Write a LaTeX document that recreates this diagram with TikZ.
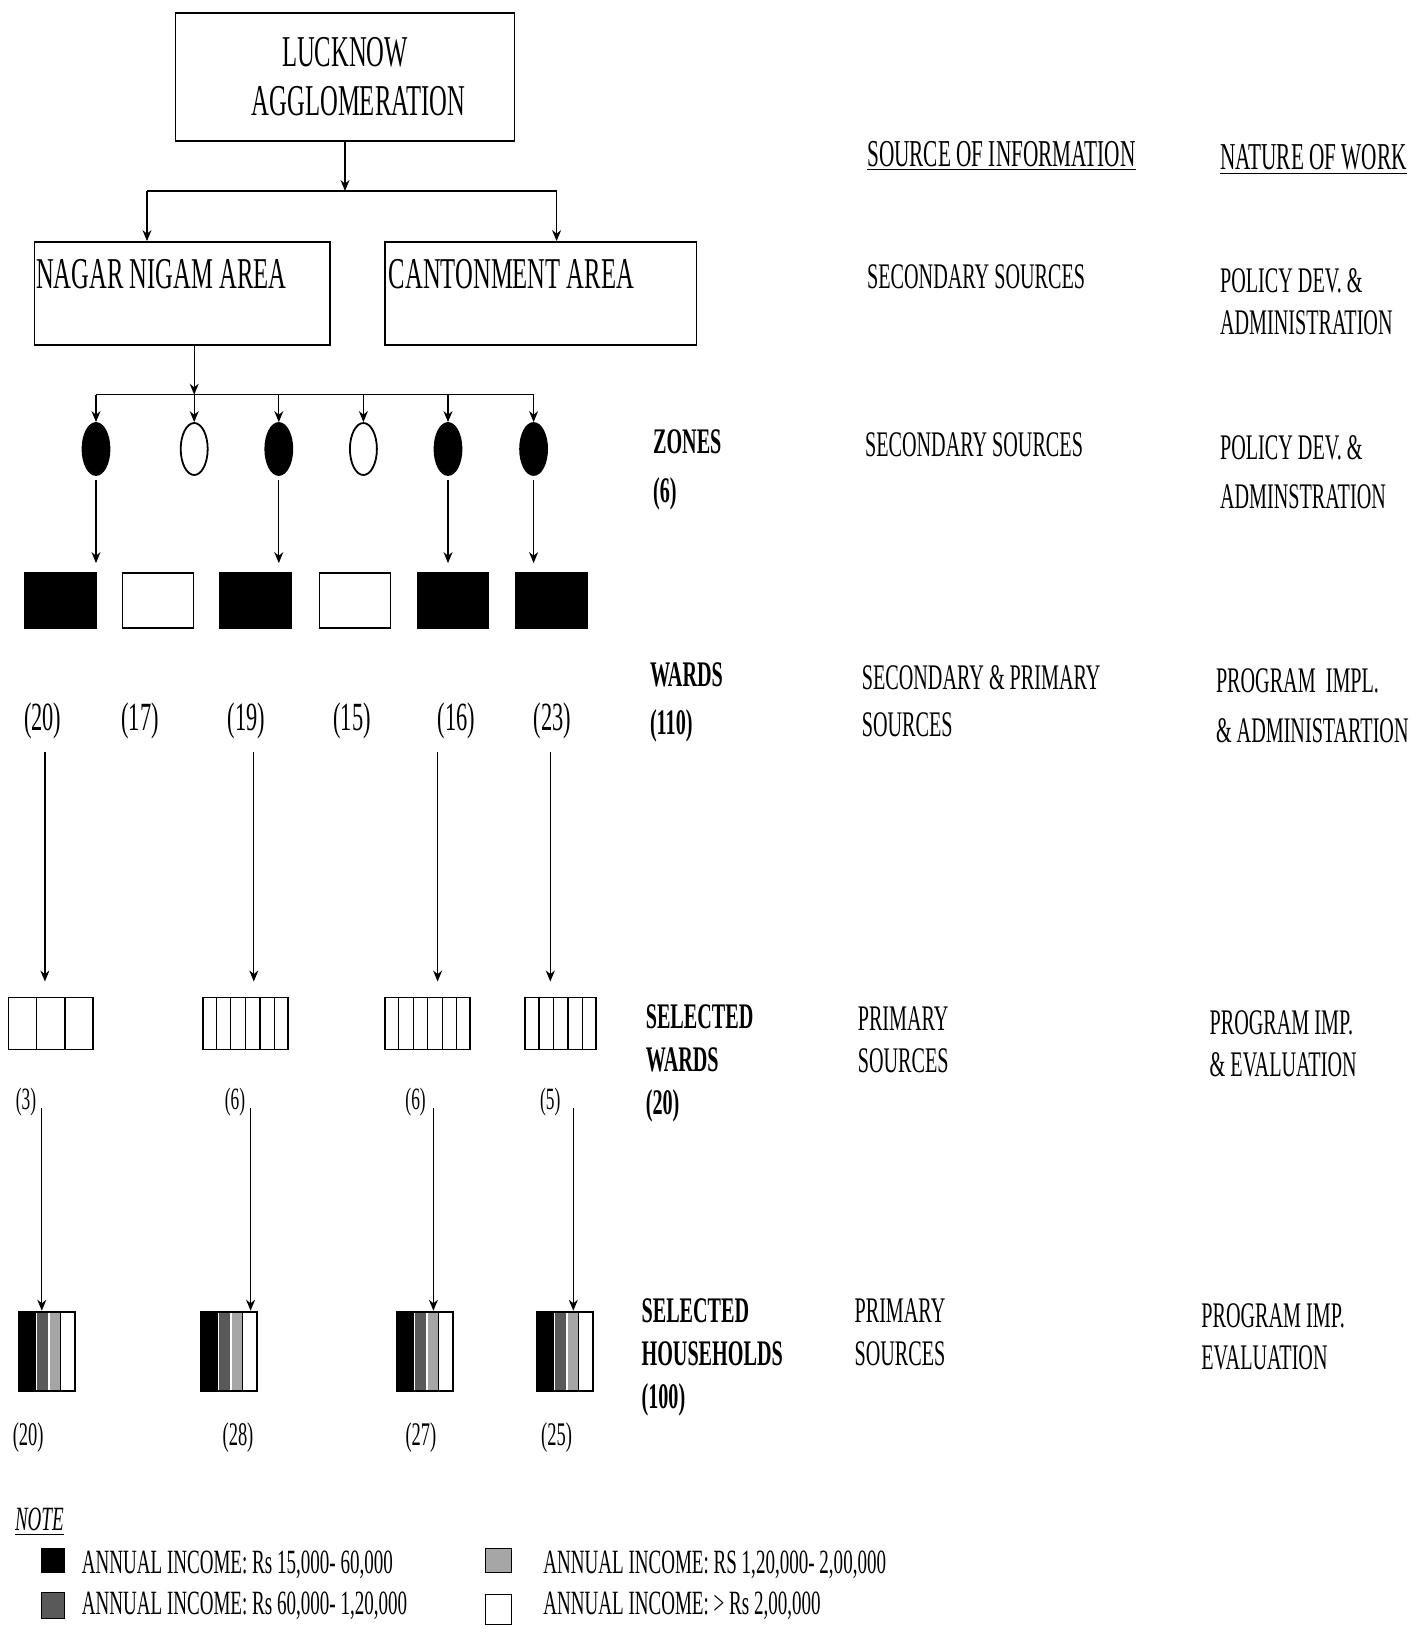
\documentclass[tikz,border=0pt]{standalone}
\usepackage{fontspec}
\setmainfont{Liberation Serif}[FakeStretch=0.56]
\usetikzlibrary{arrows.meta,shapes.geometric,calc,positioning}

\begin{document}
\begin{tikzpicture}[x=0.5pt, y=-0.5pt, >={Stealth[length=5.5pt,width=4.5pt]},
  box/.style={draw, line width=0.9pt, inner sep=0},
  conn/.style={line width=0.6pt},
  bigtxt/.style={font=\fontsize{22}{24.5}\selectfont},
  arealbl/.style={bigtxt, inner sep=0, anchor=north west},
  zone/.style={ellipse, draw, line width=0.9pt, minimum width=13.5pt, minimum height=26pt, inner sep=0},
  wardbox/.style={box, minimum width=35.5pt, minimum height=27.3pt},
  selbox/.style={box, minimum height=26pt},
  hhbox/.style={box, minimum width=28.2pt, minimum height=39.7pt,
    path picture={
      \fill[black] (path picture bounding box.north west) rectangle ([xshift=8.5pt]path picture bounding box.south west);
      \fill[black!65] ([xshift=9pt]path picture bounding box.north west) rectangle ([xshift=14.5pt]path picture bounding box.south west);
      \fill[black!35] ([xshift=15.5pt]path picture bounding box.north west) rectangle ([xshift=21pt]path picture bounding box.south west);
      \draw[line width=0.6pt] ([xshift=21pt]path picture bounding box.north west) -- ([xshift=21pt]path picture bounding box.south west);
    }},
  cnt/.style={font=\fontsize{#1}{#1}\selectfont, inner sep=0},
  lvl/.style={font=\fontsize{18}{#1}\selectfont\bfseries, align=left, anchor=north west, inner sep=0},
  src/.style={font=\fontsize{18}{#1}\selectfont, align=left, anchor=north west, inner sep=0},
  keybox/.style={draw, line width=0.6pt, inner sep=0},
  keytxt/.style={font=\fontsize{17}{17}\selectfont, anchor=base west, inner sep=0}]

\fill[white] (0,0) rectangle (1414,1638);
\useasboundingbox (0,0) rectangle (1414,1638);

\path
  (147,191)   coordinate (barL)
  (556.6,191) coordinate (barR)
  (96,394.7)  coordinate (zbarL)
  (533.6,394.7) coordinate (zbarR)
  (194.2,394.7) coordinate (zdrop)
  (44.9,752)  coordinate (a1)
  (253.8,752) coordinate (a2)
  (437.6,752) coordinate (a3)
  (550.3,752) coordinate (a4)
  (41.8,1108) coordinate (b1)
  (250.6,1108) coordinate (b2)
  (433.4,1108) coordinate (b3)
  (573.3,1108) coordinate (b4)
  ;

% top of the tree
\node[box, bigtxt, align=center, minimum width=169.5pt, minimum height=64.25pt] (lucknow) at (345,77) {LUCKNOW\\\hspace*{13.6pt}AGGLOMERATION};
\node[box, minimum width=147.75pt, minimum height=51.5pt] (nagar) at (182.25,293.5) {};
\node[box, minimum width=155.6pt, minimum height=51.5pt] (canton) at (540.9,293.5) {};
\node[arealbl] (nagarlbl) at ([shift={(2,18)}]nagar.north west) {NAGAR NIGAM AREA};
\node[arealbl] (cantonlbl) at ([shift={(4,18)}]canton.north west) {CANTONMENT AREA};

\draw[conn,->] (lucknow.south) -- (lucknow.south |- barL);
\draw[conn] (barL) -- (barR);
\draw[conn,->] (barL) -- (barL |- nagar.north);
\draw[conn,->] (barR) -- (barR |- canton.north);

% zones
\draw[conn,->] (zdrop |- nagar.south) -- (zdrop);
\draw[conn] (zbarL) -- (zbarR);
\foreach \x/\f [count=\i] in {96/black,194.2/white,278.8/black,363.4/white,448/black,533.6/black}
{
  \node[zone, fill=\f] (z\i) at (\x,449) {};
  \draw[conn,->] (z\i.north |- zbarL) -- (z\i.north);
}

% wards
\foreach \x/\f [count=\i] in {60.5/black,158/white,255.6/black,355/white,453/black,551.5/black}
  \node[wardbox, fill=\f] (w\i) at (\x,600.3) {};
\foreach \i in {1,3,5,6}
  \draw[conn,->,shorten <=2pt,shorten >=4.5pt] (z\i.south) -- (z\i.south |- w\i.north);

\foreach \x/\t [count=\i] in {42.8/20,140/17,246.5/19,352/15,456.4/16,552.4/23}
  \node[cnt=20] (n\i) at (\x,720.6) {(\t)};

% selected wards
\foreach \x/\w/\n [count=\i] in {50.7/42.3/3,245.4/42.8/6,427.7/42.35/6,560.8/35.5/5}
{
  \node[selbox, minimum width=\w pt] (s\i) at (\x,1023.4) {};
  \pgfmathtruncatemacro\last{\n-1}
  \foreach \k in {1,...,\last}
    \draw[line width=0.6pt] ($(s\i.north west)!\k/\n!(s\i.north east)$) -- ($(s\i.south west)!\k/\n!(s\i.south east)$);
  \draw[conn,->,shorten >=7.5pt] (a\i) -- (a\i |- s\i.north);
}
\foreach \x/\t [count=\i] in {26/3,235/6,415.6/6,550.3/5}
  \node[cnt=15.5] (m\i) at (\x,1101.7) {(\t)};

% selected households
\foreach \x [count=\i] in {47,228.7,425,565}
{
  \node[hhbox] (h\i) at (\x,1351.3) {};
  \draw[conn,->] (b\i) -- (b\i |- h\i.north);
}
\foreach \x/\t [count=\i] in {28.2/20,238/28,420.9/27,556.6/25}
  \node[cnt=16.5] (q\i) at (\x,1438) {(\t)};

% levels
\node[lvl=24.5] (zones) at (652.7,429.7) {ZONES\\(6)};
\node[lvl=24] (wards) at (649.6,662.6) {WARDS\\(110)};
\node[lvl=21.5] (selw) at (645.4,1004) {SELECTED\\WARDS\\(20)};
\node[lvl=21.5] (selh) at (641.2,1298.6) {SELECTED\\HOUSEHOLDS\\(100)};

% source of information and nature of work
\node[src=19, font=\fontsize{19}{19}\selectfont] (srchd) at (866.8,141) {\underline{SOURCE OF INFORMATION}};
\node[src=19, font=\fontsize{19}{19}\selectfont] (nathd) at (1219.7,144) {\underline{NATURE OF WORK}};

\node[src=20] (src1) at (866.8,264.7) {SECONDARY SOURCES};
\node[src=20.85] (nat1) at (1219.7,268) {POLICY DEV. \&\\ADMINISTRATION};
\node[src=20] (src2) at (864.7,431.8) {SECONDARY SOURCES};
\node[src=24.5] (nat2) at (1219.7,435) {POLICY DEV. \&\\ADMINSTRATION};
\node[src=23.5] (src3) at (861.5,664.7) {SECONDARY \& PRIMARY\\SOURCES};
\node[src=25] (nat3) at (1215.6,667.8) {PROGRAM\ \ IMPL.\\\& ADMINISTARTION};
\node[src=21] (src4) at (857.4,1006) {PRIMARY\\SOURCES};
\node[src=20.8] (nat4) at (1209.3,1010.4) {PROGRAM IMP.\\\& EVALUATION};
\node[src=21.4] (src5) at (854.2,1298.6) {PRIMARY\\SOURCES};
\node[src=21.4] (nat5) at (1201,1302.8) {PROGRAM IMP.\\EVALUATION};

% note
\node[keytxt, anchor=north west, font=\fontsize{17}{17}\selectfont\itshape] (note) at (14.6,1508) {\underline{NOTE}};
\node[keybox, fill=black, minimum width=11.5pt, minimum height=12pt] (k1) at (53.25,1560.7) {};
\node[keybox, fill=black!65, minimum width=11.5pt, minimum height=13pt] (k2) at (53.25,1605.6) {};
\node[keybox, fill=black!35, minimum width=13pt, minimum height=12pt] (k3) at (498.6,1560.7) {};
\node[keybox, fill=white, minimum width=13pt, minimum height=15pt] (k4) at (498.6,1609.8) {};
\node[keytxt] (t1) at (81.5,1573) {ANNUAL INCOME: Rs 15,000- 60,000};
\node[keytxt] (t2) at (81.5,1614) {ANNUAL INCOME: Rs 60,000- 1,20,000};
\node[keytxt] (t3) at (543,1573) {ANNUAL INCOME: RS 1,20,000- 2,00,000};
\node[keytxt] (t4) at (543,1614) {ANNUAL INCOME: > Rs 2,00,000};
\end{tikzpicture}
\end{document}
